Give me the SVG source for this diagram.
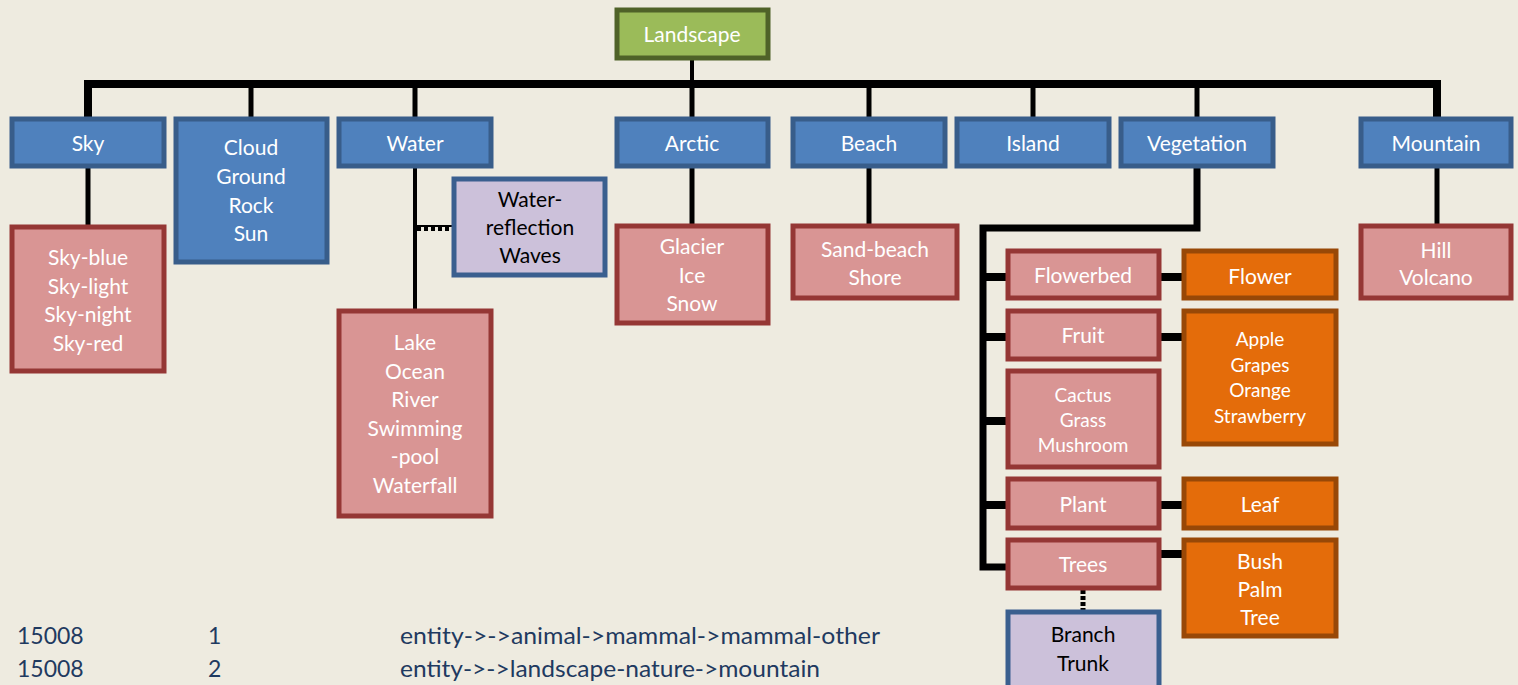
<svg xmlns="http://www.w3.org/2000/svg" width="1518" height="685" viewBox="0 0 1518 685">
<style>
text{font-family:Lato,"Open Sans","Liberation Sans",sans-serif;text-anchor:middle;dominant-baseline:central;}
.blue rect{fill:#4f81bd;stroke:#385d8a;stroke-width:5;}
.red rect{fill:#d99594;stroke:#953735;stroke-width:5;}
.org rect{fill:#e46c0a;stroke:#984807;stroke-width:5;}
.lav rect{fill:#ccc1da;stroke:#3a5f8f;stroke-width:5;}
.grn rect{fill:#9bbb59;stroke:#4f6228;stroke-width:5;}
.blue text,.red text,.org text,.grn text{fill:#ffffff;font-size:21px;}
.lav text{fill:#000000;font-size:21px;}
.sm text{font-size:19px;}
.conn line,.conn polyline{stroke:#000;fill:none;}
.foot{fill:#1f3a60;font-size:23px;text-anchor:start;dominant-baseline:alphabetic;}
</style>
<rect width="1518" height="685" fill="#eeebe0"/>
<g id="connectors" class="conn">
<line x1="692" y1="60" x2="692" y2="84" stroke-width="4"/>
<polyline points="88,117 88,84 1437,84 1437,117" stroke-width="8"/>
<line x1="88" y1="84" x2="88" y2="120" stroke-width="5"/>
<line x1="251" y1="84" x2="251" y2="120" stroke-width="5"/>
<line x1="415" y1="84" x2="415" y2="120" stroke-width="5"/>
<line x1="692" y1="84" x2="692" y2="120" stroke-width="5"/>
<line x1="869" y1="84" x2="869" y2="120" stroke-width="5"/>
<line x1="1033" y1="84" x2="1033" y2="120" stroke-width="5"/>
<line x1="1197" y1="84" x2="1197" y2="120" stroke-width="5"/>
<line x1="1437" y1="84" x2="1437" y2="120" stroke-width="5"/>
<line x1="88" y1="167" x2="88" y2="230" stroke-width="5"/>
<line x1="415" y1="167" x2="415" y2="314" stroke-width="4"/>
<line x1="417" y1="228" x2="452" y2="228" stroke-width="6" stroke-dasharray="4 3"/>
<line x1="414" y1="226" x2="452" y2="226" stroke="#2f5597" stroke-width="2" stroke-dasharray="4 3"/>
<line x1="692" y1="167" x2="692" y2="232" stroke-width="5"/>
<line x1="869" y1="167" x2="869" y2="230" stroke-width="5"/>
<line x1="1437" y1="167" x2="1437" y2="230" stroke-width="5"/>
<polyline points="1197,168 1197,228 983,228 983,567 1008,567" stroke-width="7"/>
<line x1="983" y1="277" x2="1008" y2="277" stroke-width="8"/>
<line x1="983" y1="337" x2="1008" y2="337" stroke-width="8"/>
<line x1="983" y1="421" x2="1008" y2="421" stroke-width="8"/>
<line x1="983" y1="505" x2="1008" y2="505" stroke-width="8"/>
<line x1="1160" y1="277" x2="1184" y2="277" stroke-width="8"/>
<line x1="1160" y1="337" x2="1184" y2="337" stroke-width="8"/>
<line x1="1160" y1="505" x2="1184" y2="505" stroke-width="8"/>
<line x1="1160" y1="554" x2="1184" y2="554" stroke-width="8"/>
<line x1="1083" y1="590" x2="1083" y2="611" stroke-width="5" stroke-dasharray="4 2"/>
</g>
<g id="landscape" class="grn"><rect x="617" y="10" width="151" height="48"/><text x="692" y="33">Landscape</text></g>
<g id="sky" class="blue"><rect x="12" y="119" width="152" height="47"/><text x="88" y="142">Sky</text></g>
<g id="cloud" class="blue"><rect x="176" y="119" width="151" height="143"/><text x="251" y="146">Cloud</text><text x="251" y="175">Ground</text><text x="251" y="204">Rock</text><text x="251" y="232">Sun</text></g>
<g id="water" class="blue"><rect x="339" y="119" width="152" height="47"/><text x="415" y="142">Water</text></g>
<g id="arctic" class="blue"><rect x="617" y="119" width="151" height="47"/><text x="692" y="142">Arctic</text></g>
<g id="beach" class="blue"><rect x="793" y="119" width="152" height="47"/><text x="869" y="142">Beach</text></g>
<g id="island" class="blue"><rect x="957" y="119" width="152" height="47"/><text x="1033" y="142">Island</text></g>
<g id="vegetation" class="blue"><rect x="1121" y="119" width="152" height="47"/><text x="1197" y="142">Vegetation</text></g>
<g id="mountain" class="blue"><rect x="1361" y="119" width="150" height="47"/><text x="1436" y="142">Mountain</text></g>
<g id="sky-kids" class="red"><rect x="12" y="227" width="152" height="144"/><text x="88" y="256">Sky-blue</text><text x="88" y="285">Sky-light</text><text x="88" y="313">Sky-night</text><text x="88" y="342">Sky-red</text></g>
<g id="water-extra" class="lav"><rect x="454" y="179" width="151" height="96"/><text x="530" y="198">Water-</text><text x="530" y="226">reflection</text><text x="530" y="254">Waves</text></g>
<g id="water-kids" class="red"><rect x="339" y="311" width="152" height="205"/><text x="415" y="341">Lake</text><text x="415" y="370">Ocean</text><text x="415" y="398">River</text><text x="415" y="427">Swimming</text><text x="415" y="455">-pool</text><text x="415" y="484">Waterfall</text></g>
<g id="arctic-kids" class="red"><rect x="617" y="226" width="151" height="97"/><text x="692" y="245">Glacier</text><text x="692" y="274">Ice</text><text x="692" y="302">Snow</text></g>
<g id="beach-kids" class="red"><rect x="793" y="226" width="164" height="72"/><text x="875" y="248">Sand-beach</text><text x="875" y="276">Shore</text></g>
<g id="mountain-kids" class="red"><rect x="1361" y="226" width="150" height="72"/><text x="1436" y="249">Hill</text><text x="1436" y="276">Volcano</text></g>
<g id="flowerbed" class="red"><rect x="1008" y="251" width="151" height="47"/><text x="1083" y="274">Flowerbed</text></g>
<g id="fruit" class="red"><rect x="1008" y="311" width="151" height="48"/><text x="1083" y="334">Fruit</text></g>
<g id="cactus" class="red sm"><rect x="1008" y="371" width="151" height="96"/><text x="1083" y="394">Cactus</text><text x="1083" y="419">Grass</text><text x="1083" y="444">Mushroom</text></g>
<g id="plant" class="red"><rect x="1008" y="479" width="151" height="49"/><text x="1083" y="503">Plant</text></g>
<g id="trees" class="red"><rect x="1008" y="540" width="151" height="48"/><text x="1083" y="563">Trees</text></g>
<g id="branch" class="lav"><rect x="1008" y="612" width="151" height="80"/><text x="1083" y="633">Branch</text><text x="1083" y="662">Trunk</text></g>
<g id="flower" class="org"><rect x="1184" y="251" width="152" height="47"/><text x="1260" y="275">Flower</text></g>
<g id="fruits" class="org sm"><rect x="1184" y="311" width="152" height="133"/><text x="1260" y="338">Apple</text><text x="1260" y="364">Grapes</text><text x="1260" y="389">Orange</text><text x="1260" y="415">Strawberry</text></g>
<g id="leaf" class="org"><rect x="1184" y="479" width="152" height="49"/><text x="1260" y="503">Leaf</text></g>
<g id="bush" class="org"><rect x="1184" y="540" width="152" height="96"/><text x="1260" y="560">Bush</text><text x="1260" y="588">Palm</text><text x="1260" y="616">Tree</text></g>
<g id="footer">
<text class="foot" x="17" y="644">15008</text><text class="foot" x="208" y="644">1</text><text class="foot" x="400" y="644" textLength="480" lengthAdjust="spacingAndGlyphs">entity-&gt;-&gt;animal-&gt;mammal-&gt;mammal-other</text>
<text class="foot" x="17" y="677">15008</text><text class="foot" x="208" y="677">2</text><text class="foot" x="400" y="677" textLength="420" lengthAdjust="spacingAndGlyphs">entity-&gt;-&gt;landscape-nature-&gt;mountain</text>
</g>
</svg>
